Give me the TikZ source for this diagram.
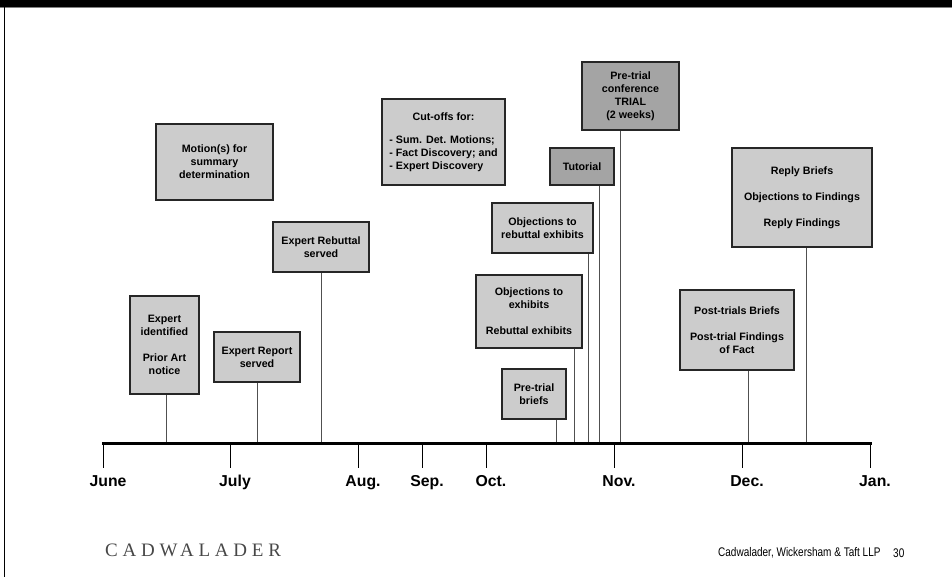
\documentclass[tikz,border=0pt]{standalone}
\usepackage{fontspec}
\setmainfont{Liberation Sans}
\newfontfamily\logofont[LetterSpace=25]{Liberation Serif}
\usetikzlibrary{calc}
\definecolor{boxgray}{HTML}{CCCCCC}
\definecolor{trialgray}{HTML}{A4A4A4}
\definecolor{stemgray}{HTML}{505050}
\newcommand{\firmtext}[1]{\scalebox{0.8}[1]{#1}}

\begin{document}
\begin{tikzpicture}[x=1pt,y=-1pt]
  \tikzset{evbox/.style={draw=black!85, line width=1.2pt, fill=boxgray, align=center, inner sep=0pt,
                         font=\fontsize{10.7}{13}\selectfont\bfseries},
           trialbox/.style={evbox, fill=trialgray},
           stem/.style={draw=stemgray, line width=0.9pt},
           month/.style={font=\fontsize{15.8}{18}\selectfont\bfseries, anchor=north, inner sep=0pt}}
  \useasboundingbox (0,0) rectangle (952,577);
  % frame of the slide
  \fill[black] (0,0) rectangle (952,7);
  \draw[gray, line width=1pt] (0,8) -- (952,8);
  \draw[black, line width=1.8pt] (4.5,0) -- (4.5,577);

  % events
  \node[evbox, minimum width=117pt, minimum height=76pt] (motion) at (214.5,162) {Motion(s) for\\summary\\determination};
  \node[evbox, minimum width=123pt, minimum height=86pt] (cutoff) at (443.5,142)
       {\begin{tabular}{@{}l@{}}\multicolumn{1}{@{}c@{}}{Cut-offs for:}\\[10pt]- Sum. Det. Motions;\\- Fact Discovery; and\\- Expert Discovery\end{tabular}};
  \node[evbox, minimum width=69pt, minimum height=98pt] (expid) at (164.5,345) {Expert\\identified\\[13pt]Prior Art\\notice};
  \node[evbox, minimum width=86pt, minimum height=50pt] (exprep) at (257,357) {Expert Report\\served};
  \node[evbox, minimum width=96pt, minimum height=50pt] (exrebut) at (321,247) {Expert Rebuttal\\served};
  \node[evbox, minimum width=64pt, minimum height=50pt] (ptbrief) at (534,394) {Pre-trial\\briefs};
  \node[evbox, minimum width=106pt, minimum height=73pt] (objex) at (529,311.5) {Objections to\\exhibits\\[13pt]Rebuttal exhibits};
  \node[evbox, minimum width=101pt, minimum height=50pt] (objreb) at (542.5,228) {Objections to\\rebuttal exhibits};
  \node[trialbox, minimum width=64pt, minimum height=37pt] (tutorial) at (582,166.5) {Tutorial};
  \node[trialbox, minimum width=97pt, minimum height=68pt] (trial) at (630.5,96) {Pre-trial\\conference\\TRIAL\\(2 weeks)};
  \node[evbox, minimum width=114pt, minimum height=80pt] (ptfind) at (737,330) {Post-trials Briefs\\[13pt]Post-trial Findings\\of Fact};
  \node[evbox, minimum width=140pt, minimum height=99pt] (reply) at (802,197.5) {Reply Briefs\\[13pt]Objections to Findings\\[13pt]Reply Findings};

  % stems down to the time line
  \foreach \bx/\sx in {expid/166, exprep/257, exrebut/321, ptbrief/556, objex/574, objreb/588, tutorial/599, trial/620, ptfind/748, reply/806}
    {\coordinate (s-\bx) at (\sx,443);
     \draw[stem] (s-\bx) -- (s-\bx |- \bx.south);}

  % time line
  \coordinate (axL) at (102,443);
  \coordinate (axR) at (872,443);
  \draw[line width=3pt] (axL) -- (axR);
  \foreach \m/\mx in {June/103, July/230, Aug./358, Sep./422, Oct./486, Nov./614, Dec./742, Jan./870}
    {\coordinate (m-\mx) at (\mx,443);
     \draw[line width=0.9pt] (m-\mx) -- ++(0,25);
     \node[month] (lab-\mx) at (\mx+5,475) {\m};}

  % footer
  \node[anchor=west, inner sep=0pt, text=black!72, font=\logofont\fontsize{19}{19}\selectfont] (logo) at (105,550) {CADWALADER};
  \node[anchor=west, inner sep=0pt, font=\fontsize{12.5}{13}\selectfont] (firm) at (718,553) {\firmtext{Cadwalader, Wickersham \& Taft LLP}};
  \node[anchor=west, inner sep=0pt, font=\fontsize{12.5}{13}\selectfont] (page) at (893,553) {\firmtext{30}};
\end{tikzpicture}
\end{document}
